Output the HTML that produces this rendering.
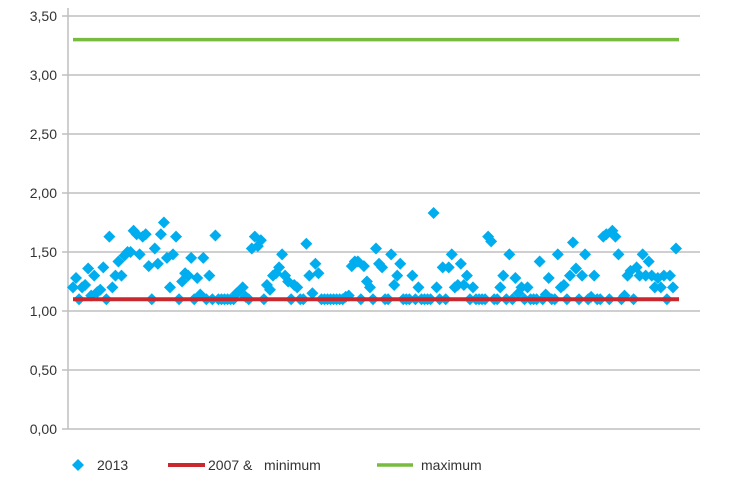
<!DOCTYPE html>
<html><head><meta charset="utf-8"><style>
body{margin:0;background:#fff;}
svg{display:block;font-family:"Liberation Sans",sans-serif;}
</style></head><body>
<svg id="chart" width="730" height="493"></svg>
<script>
const yTicks=[0,0.5,1,1.5,2,2.5,3,3.5];
const yTickLabels=["0,00","0,50","1,00","1,50","2,00","2,50","3,00","3,50"];
const minimumValue=1.10;
const maximumValue=3.30;
const values2013=[1.20,1.28,1.10,1.20,1.22,1.36,1.13,1.30,1.16,1.18,1.37,1.10,1.63,1.20,1.30,1.42,1.30,1.47,1.50,1.50,1.68,1.65,1.48,1.63,1.65,1.38,1.10,1.53,1.40,1.65,1.75,1.45,1.20,1.48,1.63,1.10,1.25,1.32,1.30,1.45,1.10,1.28,1.14,1.45,1.10,1.30,1.10,1.64,1.10,1.10,1.10,1.10,1.10,1.10,1.15,1.17,1.20,1.12,1.10,1.53,1.63,1.55,1.60,1.10,1.22,1.18,1.30,1.32,1.37,1.48,1.30,1.25,1.10,1.22,1.20,1.10,1.10,1.57,1.30,1.15,1.40,1.32,1.10,1.10,1.10,1.10,1.10,1.10,1.10,1.10,1.12,1.13,1.38,1.42,1.42,1.10,1.38,1.25,1.20,1.10,1.53,1.40,1.37,1.10,1.10,1.48,1.22,1.30,1.40,1.10,1.10,1.10,1.30,1.10,1.20,1.10,1.10,1.10,1.10,1.83,1.20,1.10,1.37,1.10,1.37,1.48,1.20,1.22,1.40,1.22,1.30,1.10,1.20,1.10,1.10,1.10,1.10,1.63,1.59,1.10,1.10,1.20,1.30,1.10,1.48,1.10,1.28,1.15,1.20,1.10,1.20,1.10,1.10,1.10,1.42,1.10,1.14,1.28,1.10,1.10,1.48,1.20,1.22,1.10,1.30,1.58,1.36,1.10,1.30,1.48,1.10,1.12,1.30,1.10,1.10,1.63,1.65,1.10,1.68,1.63,1.48,1.10,1.13,1.30,1.34,1.10,1.37,1.30,1.48,1.30,1.42,1.30,1.20,1.28,1.20,1.30,1.10,1.30,1.20,1.53];

const svg=document.getElementById('chart');
const NS='http://www.w3.org/2000/svg';
const y0=429,yTop=16,yMax=3.5;
const xL=73,xR=676;
function yScale(v){return y0-(v/yMax)*(y0-yTop);}
function xScale(i){return xL+(xR-xL)*i/(values2013.length-1);}
function mk(tag,attrs){const e=document.createElementNS(NS,tag);for(const k in attrs)e.setAttribute(k,attrs[k]);svg.appendChild(e);return e;}

yTicks.forEach((t,i)=>{
  const g=mk('line',{x1:62,x2:700,y1:yScale(t),y2:yScale(t),stroke:'#bfbfbf','stroke-width':1.5});
  
  
  const tx=mk('text',{x:57,y:yScale(t)+5,'text-anchor':'end','font-size':14,fill:'#333'});
  tx.textContent=yTickLabels[i];
  
  
});
const ax=mk('line',{x1:68,x2:68,y1:8,y2:429,stroke:'#bfbfbf','stroke-width':1.5});



const maxL=mk('line',{x1:xL,x2:xR+3,y1:yScale(maximumValue),y2:yScale(maximumValue),stroke:'#77bc3f','stroke-width':3.5});



values2013.forEach((v,i)=>{
  const x=xScale(i),y=yScale(v);
  const d=mk('polygon',{points:`${x},${y-6} ${x+6},${y} ${x},${y+6} ${x-6},${y}`,fill:'#00adef'});
  
  
});

const minL=mk('line',{x1:xL,x2:xR+3,y1:yScale(minimumValue),y2:yScale(minimumValue),stroke:'#c8282e','stroke-width':4});



// legend
const lg1=mk('polygon',{points:'78,459 84,465 78,471 72,465',fill:'#00adef'});


const lt1=mk('text',{x:97,y:470,'font-size':14,fill:'#333'});lt1.textContent='2013';


const lg2=mk('line',{x1:168,x2:205,y1:465,y2:465,stroke:'#c8282e','stroke-width':4});


const lt2=mk('text',{x:208,y:470,'font-size':14,fill:'#333',style:'white-space:pre'});lt2.textContent='2007 &   minimum';


const lg3=mk('line',{x1:377,x2:413,y1:465,y2:465,stroke:'#77bc3f','stroke-width':3.5});


const lt3=mk('text',{x:421,y:470,'font-size':14,fill:'#333'});lt3.textContent='maximum';


</script>
</body></html>
